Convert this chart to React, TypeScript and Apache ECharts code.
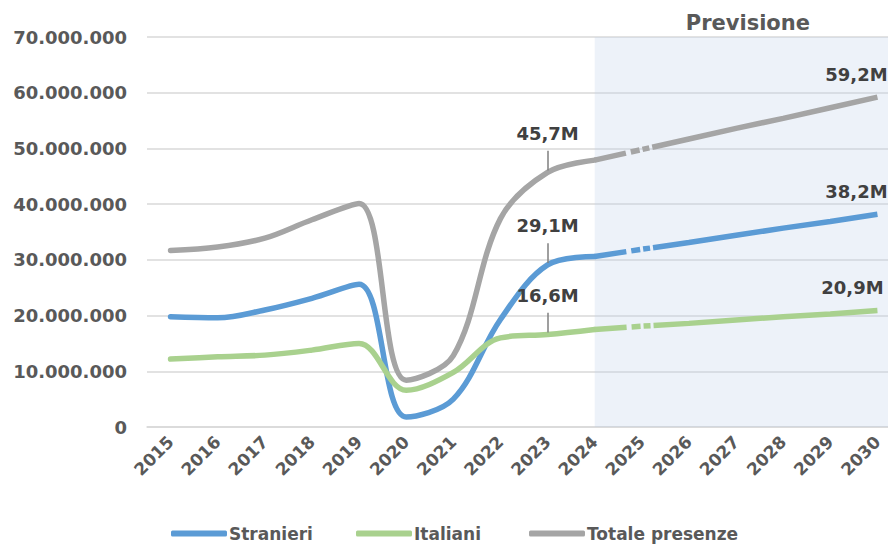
import React, { useEffect, useRef } from "react";
import * as echarts from "echarts";

// Years on the category axis
const years = ["2015", "2016", "2017", "2018", "2019", "2020", "2021", "2022", "2023", "2024", "2025", "2026", "2027", "2028", "2029", "2030"];

// Presences in millions, observed period 2015–2024
const stranieriHist = [19.8, 19.6, 21.0, 23.1, 25.6, 1.8, 5.0, 19.3, 29.1, 30.6];
const italianiHist = [12.2, 12.6, 12.9, 13.8, 15.0, 6.6, 9.8, 16.0, 16.6, 17.5];
const totaleHist = [31.7, 32.3, 33.9, 37.2, 40.1, 8.4, 12.8, 37.4, 45.7, 47.9];

// Forecast 2024–2030 (millions)
const stranieriPrev = [30.6, 31.9, 33.1, 34.4, 35.7, 36.9, 38.2];
const italianiPrev = [17.5, 18.1, 18.6, 19.2, 19.8, 20.3, 20.9];
const totalePrev = [47.9, 49.8, 51.7, 53.6, 55.4, 57.3, 59.2];

const yTicks = { min: 0, max: 70, interval: 10 };

const FONT = "DejaVu Sans";
const AXIS_GREY = "#595959";
const LABEL_DARK = "#404040";

const CHART_W = 901;
const CHART_H = 547;
const GRID = { left: 147, right: 0, top: 37, bottom: 120 };

const fmtM = (v: number) => v.toFixed(1).replace(".", ",") + "M";
const fmtAxis = (v: number) =>
  String(Math.round(v * 1000000)).replace(/\B(?=(\d{3})+(?!\d))/g, ".");

const HIGHLIGHT_IDX = 8; // 2023

const valueLabel = (extra: any) => ({
  show: true,
  position: "top",
  formatter: (p: any) => fmtM(p.value),
  fontFamily: FONT,
  fontWeight: "bold",
  fontSize: 18,
  color: LABEL_DARK,
  ...extra,
});

function histSeries(name: string, values: number[], color: string) {
  const data: any[] = years.map((_, i) => {
    if (i >= values.length) return "-";
    if (i === HIGHLIGHT_IDX) {
      return { value: values[i], label: valueLabel({ distance: 30 }) };
    }
    return values[i];
  });
  const v = values[HIGHLIGHT_IDX];
  return {
    name,
    type: "line",
    z: 3,
    smooth: 0.35,
    symbol: "circle",
    symbolSize: 0,
    showSymbol: true,
    data,
    lineStyle: { color, width: 5.5, cap: "round", join: "round" },
    itemStyle: { color },
    markLine: {
      silent: true,
      symbol: ["none", "none"],
      label: { show: false },
      lineStyle: { color: "#7f7f7f", width: 1.5, type: "solid" },
      data: [[{ coord: [HIGHLIGHT_IDX, v + 0.35] }, { coord: [HIGHLIGHT_IDX, v + 3.9] }]],
    },
  };
}

function prevSeries(name: string, values: number[], color: string, dx: number) {
  const start = years.length - values.length;
  const last = years.length - 1;
  const data: any[] = years.map((_, i) => {
    if (i < start) return "-";
    const val = values[i - start];
    if (i === last) {
      return { value: val, label: valueLabel({ distance: 14, offset: [dx, 0] }) };
    }
    return val;
  });
  return {
    name,
    type: "line",
    z: 3,
    smooth: false,
    symbol: "circle",
    symbolSize: 0,
    showSymbol: true,
    data,
    lineStyle: { color, width: 5.5, cap: "butt", type: [32, 5, 9, 3, 7, 3, 3000, 1] },
    itemStyle: { color },
  };
}

const legendBase = {
  top: 520,
  icon: "roundRect",
  itemWidth: 56,
  itemHeight: 6,
  itemGap: 0,
  selectedMode: false,
  textStyle: { fontFamily: FONT, fontWeight: "bold", fontSize: 17, color: AXIS_GREY, padding: [0, 0, 0, -3] },
};

export default function App() {
  const ref = useRef<HTMLDivElement>(null);

  useEffect(() => {
    if (!ref.current) return;
    document.body.style.overflow = "hidden";
    const chart = echarts.init(ref.current, undefined, { renderer: "svg" });
    const blue = "#5b9bd5";
    const green = "#a9d18e";
    const grey = "#a5a5a5";

    chart.setOption({
      animation: false,
      backgroundColor: "#ffffff",
      grid: { ...GRID, containLabel: false },
      legend: [
        { ...legendBase, left: 166, data: ["Stranieri"] },
        { ...legendBase, left: 351, data: ["Italiani"] },
        { ...legendBase, left: 524, data: ["Totale presenze"] },
      ],
      xAxis: {
        type: "category",
        data: years,
        boundaryGap: true,
        axisLine: { lineStyle: { color: "#d9d9d9", width: 1.5 } },
        axisTick: { alignWithLabel: true, inside: true, length: 4, lineStyle: { color: "#d0d0d0" } },
        axisLabel: {
          rotate: 45,
          margin: 12,
          interval: 0,
          fontFamily: FONT,
          fontWeight: "bold",
          fontSize: 17,
          color: AXIS_GREY,
        },
        splitLine: { show: false },
      },
      yAxis: {
        type: "value",
        min: yTicks.min,
        max: yTicks.max,
        interval: yTicks.interval,
        axisLine: { show: false },
        axisTick: { show: false },
        splitLine: { lineStyle: { color: "#d9d9d9", width: 1.5 } },
        axisLabel: {
          margin: 20,
          formatter: (v: number) => fmtAxis(v),
          fontFamily: FONT,
          fontWeight: "bold",
          fontSize: 18,
          color: AXIS_GREY,
        },
      },
      series: [
        {
          name: "forecast-area",
          type: "line",
          z: 1,
          data: [],
          silent: true,
          markArea: {
            silent: true,
            itemStyle: { color: "rgba(189, 208, 233, 0.27)" },
            label: {
              show: true,
              position: "top",
              distance: 4,
              formatter: "Previsione",
              fontFamily: FONT,
              fontWeight: "bold",
              fontSize: 21,
              color: AXIS_GREY,
            },
            // from the 2024 column to the right edge of the plot
            data: [[
              { xAxis: 9, yAxis: yTicks.max },
              { x: CHART_W - GRID.right, y: CHART_H - GRID.bottom },
            ]],
          },
        },
        histSeries("Stranieri", stranieriHist, blue),
        prevSeries("Stranieri", stranieriPrev, blue, -21),
        histSeries("Italiani", italianiHist, green),
        prevSeries("Italiani", italianiPrev, green, -25),
        histSeries("Totale presenze", totaleHist, grey),
        prevSeries("Totale presenze", totalePrev, grey, -21),
      ],
    });

    return () => chart.dispose();
  }, []);

  return (
    <div
      ref={ref}
      style={{ position: "fixed", left: 0, top: 0, width: CHART_W, height: CHART_H }}
    />
  );
}
